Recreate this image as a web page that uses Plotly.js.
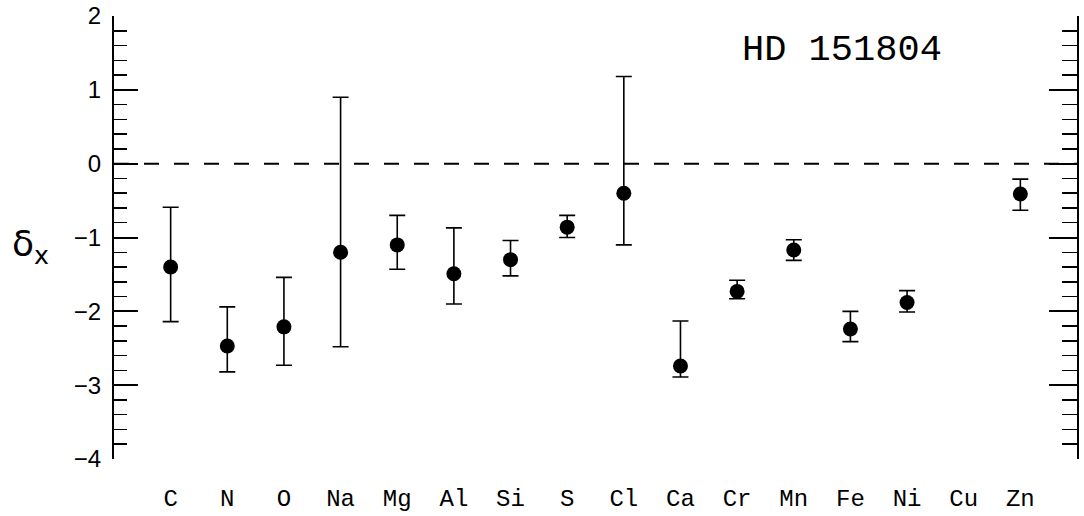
<!DOCTYPE html>
<html>
<head>
<meta charset="utf-8">
<script src="https://cdn.plot.ly/plotly-3.0.1.min.js"></script>
<style>html,body{margin:0;padding:0;background:#fff;}#chart{width:1084px;height:516px;}</style>
</head>
<body>
<div id="chart"></div>
<script>
// Elements (x categories)
const elements = ['C','N','O','Na','Mg','Al','Si','S','Cl','Ca','Cr','Mn','Fe','Ni','Cu','Zn'];
// Depletion delta_x values
const delta = [-1.40,-2.47,-2.21,-1.20,-1.10,-1.49,-1.30,-0.86,-0.40,-2.74,-1.73,-1.17,-2.24,-1.88,null,-0.41];
// Upper and lower ends of the error bars
const upperEnd = [-0.59,-1.94,-1.54,0.90,-0.70,-0.87,-1.04,-0.70,1.18,-2.13,-1.58,-1.03,-2.00,-1.72,null,-0.21];
const lowerEnd = [-2.14,-2.82,-2.73,-2.48,-1.43,-1.90,-1.52,-1.00,-1.10,-2.89,-1.83,-1.31,-2.41,-2.01,null,-0.63];
const yTicks = [-4,-3,-2,-1,0,1,2];
const starName = 'HD 151804';

const errPlus = delta.map((v,i)=> v===null ? null : +(upperEnd[i]-v).toFixed(3));
const errMinus = delta.map((v,i)=> v===null ? null : +(v-lowerEnd[i]).toFixed(3));

const trace = {
  type:'scatter', mode:'markers',
  x: elements, y: delta,
  marker:{color:'#000', size:15},
  error_y:{type:'data', symmetric:false, array:errPlus, arrayminus:errMinus,
           color:'#000', thickness:1.6, width:8},
  hoverinfo:'x+y', showlegend:false
};
// empty traces so the tick-only axes are drawn
const rightAxisTrace = {type:'scatter', mode:'markers', x:[], y:[], yaxis:'y2', showlegend:false, hoverinfo:'skip'};
const leftAxisTrace = {type:'scatter', mode:'markers', x:[], y:[], yaxis:'y3', showlegend:false, hoverinfo:'skip'};

const axisCommon = {
  range:[-4,2], tickvals:yTicks,
  ticks:'inside', tickwidth:2, tickcolor:'#000',
  showline:true, linewidth:2, linecolor:'#000',
  zeroline:false, showgrid:false, showticklabels:false
};

const layout = {
  width:1084, height:516,
  margin:{l:114, r:7, t:16, b:57},
  paper_bgcolor:'#fff', plot_bgcolor:'#fff',
  xaxis:{
    type:'category', categoryarray:elements, range:[-1,16],
    showline:false, zeroline:false, showgrid:false, ticks:'',
    tickfont:{family:'Liberation Mono, Courier New, monospace', size:24, color:'#000'},
    ticklabelstandoff:22
  },
  yaxis:{
    range:[-4,2], tickvals:yTicks,
    ticktext:yTicks.map(v=> (v<0 ? '\u2212'+Math.abs(v) : String(v))),
    ticks:'', showline:false, zeroline:false, showgrid:false,
    tickfont:{family:'Liberation Sans, Arial, sans-serif', size:24, color:'#000'},
    ticklabelstandoff:12
  },
  yaxis2:Object.assign({}, axisCommon, {
    overlaying:'y', side:'right', ticklen:28,
    minor:{dtick:0.2, ticks:'inside', ticklen:15, tickwidth:1.5, tickcolor:'#000', showgrid:false}
  }),
  yaxis3:Object.assign({}, axisCommon, {
    overlaying:'y', side:'left', ticklen:24,
    minor:{dtick:0.2, ticks:'inside', ticklen:13, tickwidth:1.5, tickcolor:'#000', showgrid:false}
  }),
  shapes:[{type:'line', xref:'paper', x0:0, x1:1, yref:'y', y0:0, y1:0,
           line:{color:'#000', width:2, dash:'15px,15px'}}],
  annotations:[
    {text:starName, xref:'paper', yref:'paper', x:0.756, y:0.923, xanchor:'center', yanchor:'middle',
     showarrow:false, font:{family:'Liberation Mono, Courier New, monospace', size:37, color:'#000'}},
    {text:'\u03b4<sub>x</sub>', xref:'paper', yref:'paper', x:-0.108, y:0.48, xanchor:'left', yanchor:'middle',
     showarrow:false, font:{family:'DejaVu Sans, sans-serif', size:36, color:'#000'}}
  ]
};

Plotly.newPlot('chart', [trace, rightAxisTrace, leftAxisTrace], layout, {displayModeBar:false, staticPlot:true});
</script>
</body>
</html>
